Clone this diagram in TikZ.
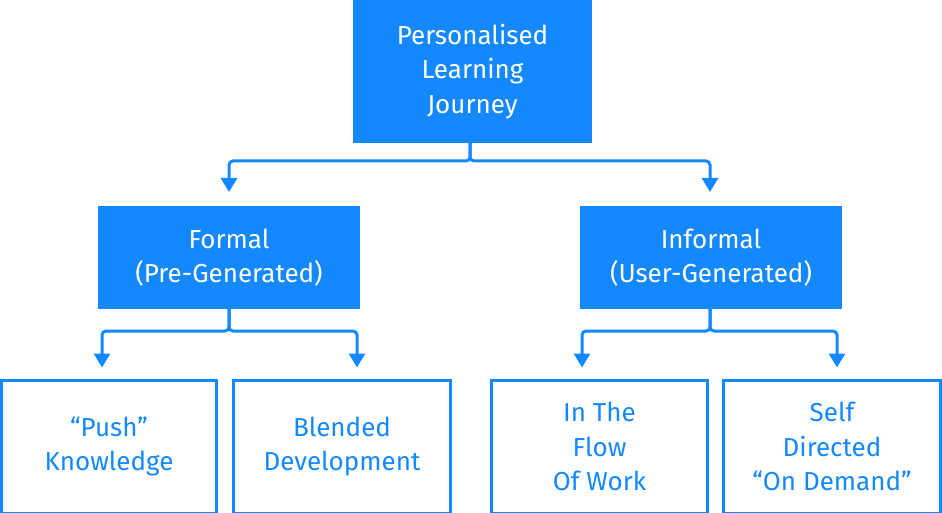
\documentclass[tikz,border=0pt]{standalone}
\usepackage{fontspec}
\setmainfont{Fira Sans}
\usetikzlibrary{arrows.meta}
\definecolor{pblue}{RGB}{20,137,255}
\tikzset{
  x=1pt, y=-1pt,
  txt/.style={font=\fontsize{26}{34.5}\selectfont, align=center, inner sep=0pt},
  filledbox/.style={txt, fill=pblue, text=white, draw=none, outer sep=0pt},
  outlinebox/.style={txt, draw=pblue, line width=3pt, fill=white, text=pblue},
  conn/.style={draw=pblue, line width=3pt, rounded corners=4pt,
    -{Triangle[width=16pt,length=14pt]}},
}
\begin{document}
\begin{tikzpicture}
\useasboundingbox (0,0) rectangle (942,513);
% top
\node[filledbox, minimum width=239pt, minimum height=143pt] (top) at (472.5,71.5)
  {Personalised\\Learning\\Journey};
% second level
\node[filledbox, minimum width=262pt, minimum height=103pt] (formal) at (229,257.5)
  {Formal\\(Pre-Generated)};
\node[filledbox, minimum width=262pt, minimum height=103pt] (informal) at (711,257.5)
  {Informal\\(User-Generated)};
% bottom level
\node[outlinebox, minimum width=215pt, minimum height=133pt] (b1) at (109,446.5)
  {“Push”\\Knowledge};
\node[outlinebox, minimum width=217pt, minimum height=133pt] (b2) at (342,446.5)
  {Blended\\Development};
\node[outlinebox, minimum width=216pt, minimum height=133pt] (b3) at (599.5,446.5)
  {In The\\Flow\\Of Work};
\node[outlinebox, minimum width=217pt, minimum height=133pt] (b4) at (832,446.5)
  {Self\\Directed\\“On Demand”};
% junction points
\coordinate (j0) at (470,161);
\coordinate (j1) at (229,331);
\coordinate (j2) at (710,331);
% connectors
\draw[conn, shorten >=14pt] ([xshift=-2.5pt]top.south) -- (j0) -| (formal.north);
\draw[conn, shorten >=14pt] ([xshift=-2.5pt]top.south) -- (j0) -| ([xshift=-1pt]informal.north);
\draw[conn, shorten >=11pt] (formal.south) -- (j1) -| ([xshift=-7pt]b1.north);
\draw[conn, shorten >=11pt] (formal.south) -- (j1) -| ([xshift=15pt]b2.north);
\draw[conn, shorten >=11pt] ([xshift=-1pt]informal.south) -- (j2) -| ([xshift=-17.5pt]b3.north);
\draw[conn, shorten >=11pt] ([xshift=-1pt]informal.south) -- (j2) -| ([xshift=5pt]b4.north);
\end{tikzpicture}
\end{document}
